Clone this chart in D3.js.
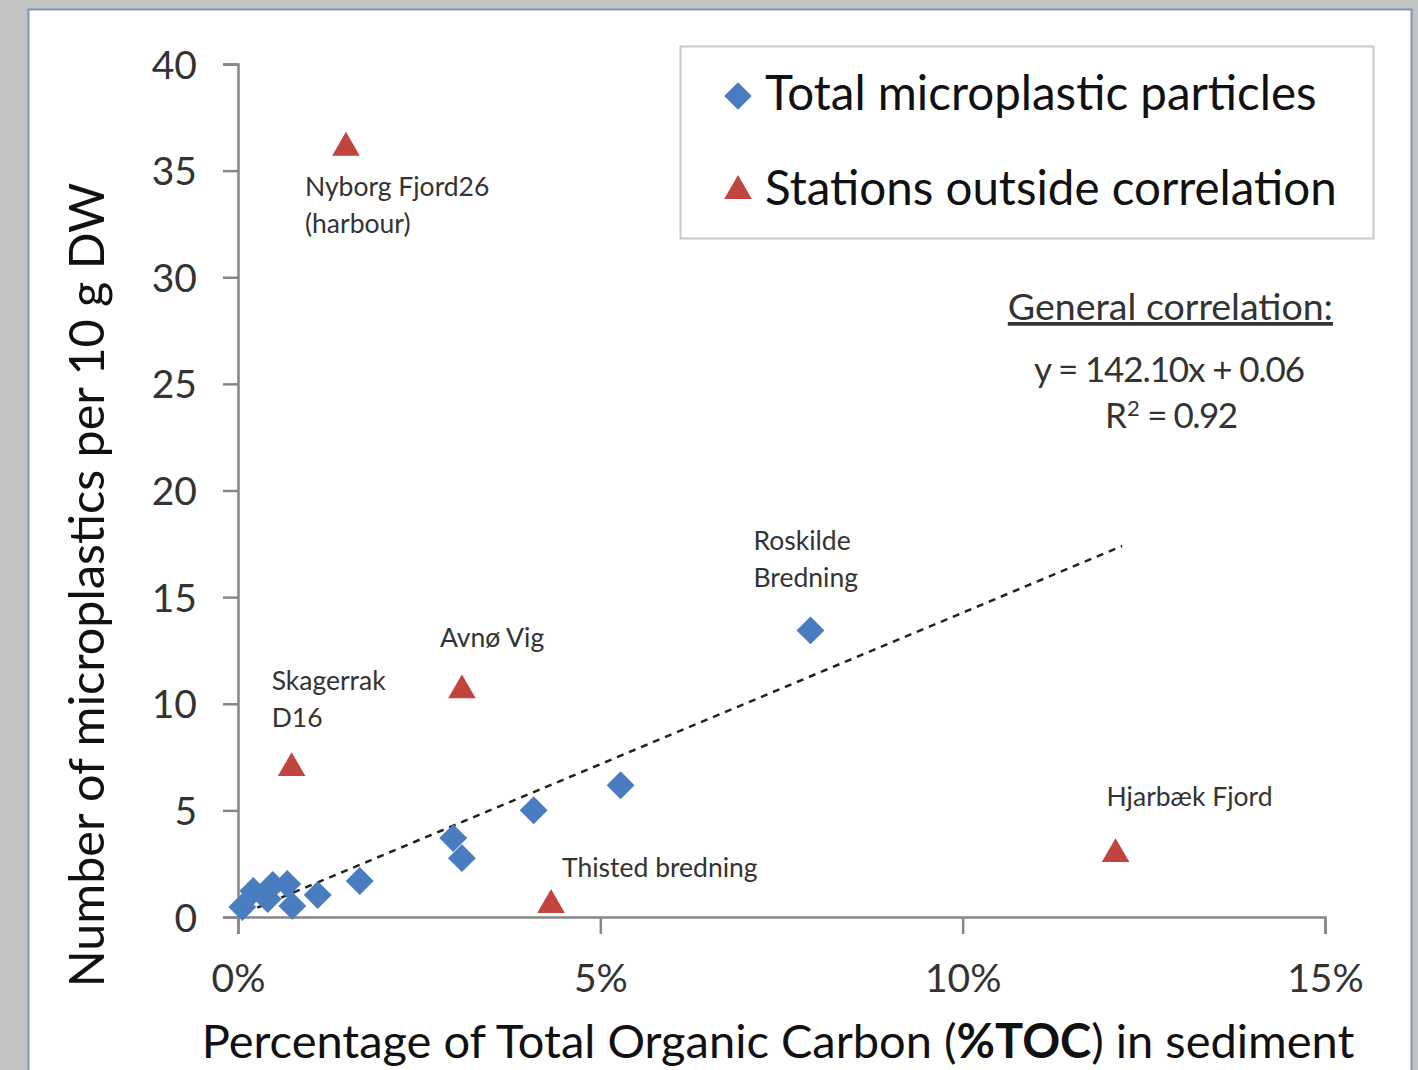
<!DOCTYPE html>
<html>
<head>
<meta charset="utf-8">
<script src="https://cdn.jsdelivr.net/npm/d3@7"></script>
<style>
  body { margin: 0; background: #c3c3c3; }
  svg { display: block; }
  text { font-family: Lato, "Open Sans", sans-serif; }
</style>
</head>
<body>
<div id="chart"></div>
<script>
// stations inside the correlation (% TOC, particles per 10 g DW)
var tocIn   = [0.06, 0.21, 0.41, 0.48, 0.68, 0.75, 1.10, 1.68, 2.97, 3.09, 4.08, 5.28, 7.90];
var countIn = [0.47, 1.22, 0.84, 1.50, 1.55, 0.52, 1.03, 1.69, 3.70, 2.76, 5.01, 6.18, 13.44];

// stations outside the correlation
var tocOut   = [1.49, 0.74, 3.09, 4.32, 12.11];
var countOut = [36.07, 6.98, 10.63, 0.56, 2.95];

// station labels
var labelNames = [["Nyborg Fjord26", "(harbour)"], ["Skagerrak", "D16"], ["Avnø Vig"], ["Roskilde", "Bredning"], ["Thisted bredning"], ["Hjarbæk Fjord"]];
var labelToc   = [1.49, 0.74, 3.09, 7.90, 4.32, 12.11];
var labelCount = [36.07, 6.98, 10.63, 13.44, 0.56, 2.95];
var labelDx    = [-41, -20, -22, -57, 11, -9];
var labelDy    = [48, -78, -43, -80, -28, -48];

var yTicks = [0, 5, 10, 15, 20, 25, 30, 35, 40];
var xTicks = [0, 5, 10, 15];

// trend line: y = 142.10x + 0.06, drawn over 0.1% .. 12.2%
var slope = 142.10, intercept = 0.06;
var trendX = [0.1, 12.2];

var width = 1418, height = 1070;
var svg = d3.select("#chart").append("svg")
  .attr("width", width)
  .attr("height", height);

// white panel
svg.append("rect")
  .attr("x", 28.5).attr("y", 9.5)
  .attr("width", 1383).attr("height", 1080)
  .attr("fill", "#fff")
  .attr("stroke", "#7d97b5")
  .attr("stroke-width", 2);

var x = d3.scaleLinear().domain([0, 15]).range([238, 1325]);
var y = d3.scaleLinear().domain([0, 40]).range([917, 64]);

// axes
var yAxis = svg.append("g")
  .attr("transform", "translate(238,0)")
  .call(d3.axisLeft(y).tickValues(yTicks).tickSize(15).tickPadding(26));
var xAxis = svg.append("g")
  .attr("transform", "translate(0,917)")
  .call(d3.axisBottom(x).tickValues(xTicks).tickSize(17).tickPadding(30)
    .tickFormat(function(d) { return d + "%"; }));

[xAxis, yAxis].forEach(function(ax) {
  ax.select(".domain").attr("stroke", "#878787").attr("stroke-width", 2.5);
  ax.selectAll(".tick line").attr("stroke", "#878787").attr("stroke-width", 2.5);
  ax.selectAll(".tick text")
    .attr("fill", "#333")
    .style("font-size", "39px")
    .style("font-family", "Lato, 'Open Sans', sans-serif");
});
yAxis.selectAll(".tick text").attr("dy", "0.36em");
xAxis.selectAll(".tick text").attr("dy", "0.71em");

// axis titles
svg.append("text")
  .attr("x", 778).attr("y", 1058)
  .attr("text-anchor", "middle")
  .style("font-size", "47px")
  .attr("fill", "#111")
  .html('Percentage of Total Organic Carbon (<tspan font-weight="bold">%TOC</tspan>) in sediment');

svg.append("text")
  .attr("transform", "translate(104,585) rotate(-90)")
  .attr("text-anchor", "middle")
  .style("font-size", "48.5px")
  .attr("fill", "#111")
  .text("Number of microplastics per 10 g DW");

// trend line
var line = d3.line()
  .x(function(d) { return x(d); })
  .y(function(d) { return y(slope * d / 100 + intercept); });
svg.append("path")
  .attr("d", line(trendX))
  .attr("fill", "none")
  .attr("stroke", "#222")
  .attr("stroke-width", 2.5)
  .attr("stroke-dasharray", "7,6");

// diamonds
var diamond = d3.symbol().type(d3.symbolSquare).size(390);
svg.selectAll(".dia")
  .data(d3.range(tocIn.length))
  .enter().append("path")
  .attr("class", "dia")
  .attr("d", diamond)
  .attr("transform", function(i) { return "translate(" + x(tocIn[i]) + "," + y(countIn[i]) + ") rotate(45)"; })
  .attr("fill", "#4a7dc0");

// triangles
var tri = d3.symbol().type(d3.symbolTriangle).size(330);
svg.selectAll(".tri")
  .data(d3.range(tocOut.length))
  .enter().append("path")
  .attr("class", "tri")
  .attr("d", tri)
  .attr("transform", function(i) { return "translate(" + x(tocOut[i]) + "," + y(countOut[i]) + ")"; })
  .attr("fill", "#c0453f");

// station labels
labelNames.forEach(function(lines, i) {
  var t = svg.append("text")
    .attr("x", x(labelToc[i]) + labelDx[i])
    .attr("y", y(labelCount[i]) + labelDy[i])
    .attr("fill", "#333")
    .style("font-size", "26.5px");
  lines.forEach(function(s, j) {
    t.append("tspan")
      .attr("x", x(labelToc[i]) + labelDx[i])
      .attr("dy", j === 0 ? 0 : 37)
      .text(s);
  });
});

// legend
var legend = svg.append("g");
legend.append("rect")
  .attr("x", 680.5).attr("y", 46.5)
  .attr("width", 693).attr("height", 192)
  .attr("fill", "#fff")
  .attr("stroke", "#c8c8c8")
  .attr("stroke-width", 2);
legend.append("path")
  .attr("d", d3.symbol().type(d3.symbolSquare).size(380))
  .attr("transform", "translate(738,96) rotate(45)")
  .attr("fill", "#4a7dc0");
legend.append("path")
  .attr("d", d3.symbol().type(d3.symbolTriangle).size(330))
  .attr("transform", "translate(738,191)")
  .attr("fill", "#c0453f");
legend.append("text")
  .attr("x", 765).attr("y", 110)
  .attr("fill", "#111")
  .style("font-size", "47.5px")
  .text("Total microplastic particles");
legend.append("text")
  .attr("x", 765).attr("y", 205)
  .attr("fill", "#111")
  .style("font-size", "47.5px")
  .text("Stations outside correlation");

// correlation note
svg.append("text")
  .attr("x", 1333).attr("y", 320)
  .attr("text-anchor", "end")
  .attr("fill", "#333")
  .attr("text-decoration", "underline")
  .style("font-size", "37.5px")
  .text("General correlation:");
svg.append("text")
  .attr("x", 1034).attr("y", 382)
  .attr("textLength", 271)
  .attr("lengthAdjust", "spacing")
  .attr("fill", "#333")
  .style("font-size", "35px")
  .text("y = 142.10x + 0.06");
svg.append("text")
  .attr("x", 1105).attr("y", 428)
  .attr("fill", "#333")
  .style("font-size", "35px")
  .html('R<tspan dy="-12" font-size="22px">2</tspan><tspan dy="12" letter-spacing="-1.5"> = 0.92</tspan>');
</script>
</body>
</html>
